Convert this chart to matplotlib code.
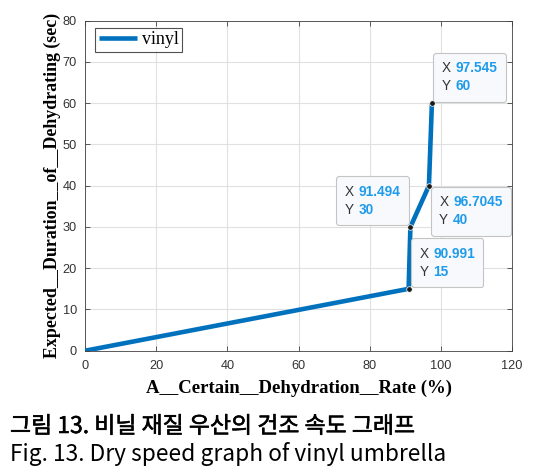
import matplotlib
matplotlib.use("Agg")
import matplotlib.pyplot as plt
import matplotlib.patheffects as pe
from matplotlib.offsetbox import TextArea, HPacker, VPacker, AnnotationBbox

x_vals = [0, 90.991, 91.494, 96.7045, 97.545]
y_vals = [0, 15, 30, 40, 60]
tip_x = ["90.991", "91.494", "96.7045", "97.545"]
tip_y = ["15", "30", "40", "60"]
tip_align = [(0, 0), (1, 0), (0, 1), (0, 0)]
tip_off = [(7.7, 7.3), (-7.0, 7.4), (7.4, -6.9), (7.1, 7.1)]
series_name = "vinyl"
caption_ko = "그림 13. 비닐 재질 우산의 건조 속도 그래프"
caption_en = "Fig. 13. Dry speed graph of vinyl umbrella"

W, H = 541, 466
fig = plt.figure(figsize=(W/100, H/100), dpi=100)
L, R, T, B = 85.3, 511.7, 20.7, 350.7
ax = fig.add_axes([L/W, 1-B/H, (R-L)/W, (B-T)/H])

blue = "#0072BD"
ax.plot(x_vals, y_vals, color=blue, lw=3.3, label=series_name, solid_capstyle="butt", zorder=3)
ax.plot(x_vals[1:], y_vals[1:], "o", color="#1a1a1a", ms=4, mec="white", mew=0.5, zorder=7)

ax.set_xlim(0, 120)
ax.set_ylim(0, 80)
ax.set_xticks(range(0, 121, 20))
ax.set_yticks(range(0, 81, 10))
ax.grid(True, color="#e0e0e0", lw=0.8)
ax.set_axisbelow(True)
for s in ax.spines.values():
    s.set_color("#404040")
    s.set_linewidth(0.6)
ax.tick_params(direction="in", length=3.5, width=0.6, colors="#404040", labelsize=9.2, top=True, right=True,
               labeltop=False, labelright=False)
ax.tick_params(axis="x", pad=7)
ax.tick_params(axis="y", pad=6)
for lab in ax.get_xticklabels() + ax.get_yticklabels():
    lab.set_fontfamily("Liberation Sans")
    lab.set_color("#333333")

ax.set_xlabel("A__Certain__Dehydration__Rate (%)", fontfamily="Liberation Serif", fontweight="bold",
              fontsize=13.5, labelpad=5)
ax.set_ylabel("Expected__Duration__of__Dehydrating (sec)", fontfamily="Liberation Serif", fontweight="bold",
              fontsize=12.9, labelpad=1.5)

leg = ax.legend(loc="upper left", bbox_to_anchor=(0.0227, 0.979), prop={"family": "Liberation Serif", "size": 13},
                frameon=True, fancybox=False, handlelength=2.1, handletextpad=0.3, borderpad=0.2,
                borderaxespad=0)
leg.get_frame().set_edgecolor("#262626")
leg.get_frame().set_linewidth(0.8)

tip_blue = "#1E9BEA"
for xv, yv, tx, ty, al, off in zip(x_vals[1:], y_vals[1:], tip_x, tip_y, tip_align, tip_off):
    rows = []
    for lbl, val in (("X", tx), ("Y", ty)):
        rows.append(HPacker(children=[
            TextArea(lbl, textprops=dict(fontsize=9.8, family="Liberation Sans", color="#333333")),
            TextArea(val, textprops=dict(fontsize=9.8, family="Liberation Sans", color=tip_blue, fontweight="bold"))],
            sep=3.5, align="baseline", pad=0))
    box = VPacker(children=rows, sep=3, align="left", pad=0)
    ab = AnnotationBbox(box, (xv, yv), xybox=off, xycoords="data", boxcoords="offset points",
                        box_alignment=al, frameon=True, zorder=6,
                        bboxprops=dict(boxstyle="round,pad=0.6,rounding_size=0.2", fc="#f8f9fc", ec="#c4c4c4", lw=0.8))
    ax.add_artist(ab)

fig.text(10/W, 1-433/H, caption_ko, fontsize=16.5, family=["Noto Sans CJK KR", "DejaVu Sans"],
         fontweight="regular", color="black", ha="left", va="baseline",
         path_effects=[pe.withStroke(linewidth=0.4, foreground="black")])
fig.text(10/W, 1-461/H, caption_en, fontsize=16.4, family=["Noto Sans CJK KR", "DejaVu Sans"],
         fontweight="regular", color="black", ha="left", va="baseline")

fig.savefig("out.png", dpi=100)
